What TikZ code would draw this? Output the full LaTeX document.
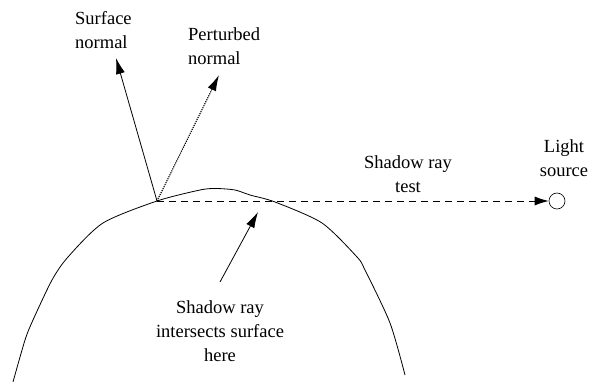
\documentclass[tikz,border=0pt]{standalone}
\usepackage{fontspec}
\setmainfont{Liberation Serif}
\usetikzlibrary{arrows.meta}
\begin{document}
\begin{tikzpicture}[x=1pt,y=-1pt,
  lbl/.style={inner sep=0pt,font=\fontsize{18.5}{24}\selectfont},
  ln/.style={line width=0.8pt},
  arr/.style={ln,-{Latex[length=16pt,width=9pt]}},
  dashray/.style={ln,dash pattern=on 7pt off 5pt},
  dotray/.style={line width=1.1pt,dash pattern=on 1.2pt off 1pt}]
\useasboundingbox (0,0) rectangle (592,382);
% surface curve
\draw[ln] plot[smooth,tension=0.45] coordinates {(13,382) (25,340) (33,320) (52,280) (68,257) (103,223) (157,201) (200,190) (216,188.5) (235,190) (250,195) (275,202) (322,223) (357,257) (365,270) (390,323) (405,375)};
\coordinate (p) at (157,201);
\coordinate (sn) at (116,58);
\coordinate (pn) at (219,75);
\node[draw,circle,line width=0.6pt,minimum size=16pt,inner sep=0pt] (light) at (557,201) {};
\coordinate (ia) at (220,282);
\coordinate (ib) at (258,212);
% normals
\draw[arr] (p) -- (sn);
\draw[dotray,-{Latex[length=16pt,width=9pt]}] (p) -- (pn);
% shadow ray
\draw[dashray,-{Latex[length=14pt,width=9pt]}] (p) -- (light.west);
% intersection pointer
\draw[arr] (ia) -- (ib);
% labels
\node[lbl,align=left,anchor=north west] (tsn) at (75,11) {Surface\\normal};
\node[lbl,align=left,anchor=north west] (tpn) at (188,27) {Perturbed\\normal};
\node[lbl,align=center,anchor=north] (tsr) at (408,155) {Shadow ray\\test};
\node[lbl,align=center,anchor=north] (tls) at (564,139) {Light\\source};
\node[lbl,align=center,anchor=north] (tis) at (220,300) {Shadow ray\\intersects surface\\here};
\end{tikzpicture}
\end{document}
